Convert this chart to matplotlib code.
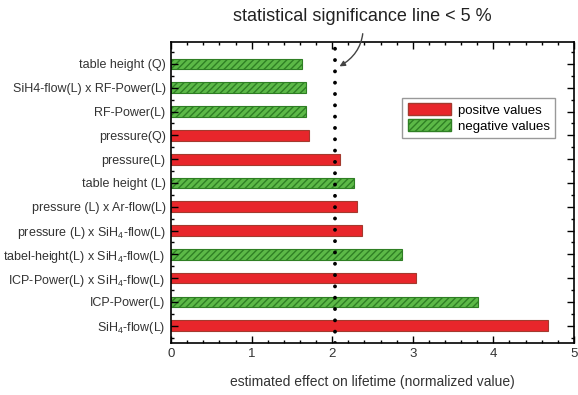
import matplotlib
matplotlib.use("Agg")
import matplotlib.pyplot as plt
from matplotlib.patches import Patch
from matplotlib.ticker import MultipleLocator

plt.rcParams['font.family'] = ['Liberation Sans', 'DejaVu Sans']
plt.rcParams['mathtext.fontset'] = 'custom'
plt.rcParams['mathtext.rm'] = 'Liberation Sans'
plt.rcParams['hatch.linewidth'] = 1.0

# factors listed top to bottom as in the chart
factors = [
    "table height (Q)",
    "SiH4-flow(L) x RF-Power(L)",
    "RF-Power(L)",
    "pressure(Q)",
    "pressure(L)",
    "table height (L)",
    "pressure (L) x Ar-flow(L)",
    r"pressure (L) x SiH$_\mathregular{4}$-flow(L)",
    r"tabel-height(L) x SiH$_\mathregular{4}$-flow(L)",
    r"ICP-Power(L) x SiH$_\mathregular{4}$-flow(L)",
    "ICP-Power(L)",
    r"SiH$_\mathregular{4}$-flow(L)",
]
effects = [1.63, 1.67, 1.67, 1.71, 2.10, 2.27, 2.31, 2.37, 2.86, 3.04, 3.81, 4.68]
sign = ["neg", "neg", "neg", "pos", "pos", "neg", "pos", "pos", "neg", "pos", "neg", "pos"]
signif_line = 2.04

red = "#e8262b"
green = "#5cb947"
txt = "#333333"

fig = plt.figure(figsize=(5.78, 3.95), dpi=100)
ax = fig.add_axes([0.296, 0.132, 0.697, 0.762])

n = len(factors)
ypos = [n - 1 - i for i in range(n)]
for y, v, s in zip(ypos, effects, sign):
    if s == "pos":
        ax.barh(y, v, height=0.45, color=red, edgecolor="#a33a2e", linewidth=0.8)
    else:
        ax.barh(y, v, height=0.45, color=green, edgecolor="#2f7f24", linewidth=0.8,
                hatch="/////")

# significance threshold, round dots
ax.axvline(signif_line, color="black", linestyle=(0, (0.01, 2.9)), linewidth=2.8,
           dash_capstyle="round")

ax.set_xlim(0, 5)
ax.set_ylim(-0.72, n - 1 + 0.93)
ax.set_yticks(ypos)
ax.set_yticklabels(factors, color=txt)
ax.xaxis.set_major_locator(MultipleLocator(1))
ax.xaxis.set_minor_locator(MultipleLocator(0.2))
ax.yaxis.set_minor_locator(MultipleLocator(0.5))
ax.tick_params(which="both", direction="in", top=True, right=True, width=1)
ax.tick_params(which="major", length=5, labelsize=9.5, labelcolor=txt)
ax.tick_params(axis="y", which="major", labelsize=9.0, pad=4)
ax.tick_params(which="minor", length=2.5)
for sp in ax.spines.values():
    sp.set_linewidth(1.2)

ax.set_xlabel("estimated effect on lifetime (normalized value)", fontsize=10,
              color=txt, labelpad=11)

legend_handles = [
    Patch(facecolor=red, edgecolor="#a33a2e", label="positve values"),
    Patch(facecolor=green, edgecolor="#2f7f24", hatch="/////", label="negative values"),
]
ax.legend(handles=legend_handles, loc="upper right", bbox_to_anchor=(0.953, 0.814),
          borderaxespad=0, fontsize=9.5, fancybox=False, edgecolor="#999999",
          framealpha=1, handlelength=3.3, handleheight=1.0, borderpad=0.4,
          labelspacing=0.2, handletextpad=0.5)

ax.annotate("statistical significance line < 5 %", xy=(signif_line + 0.05, 10.9),
            xytext=(2.37, 12.98), textcoords="data", ha="center", va="center",
            fontsize=13, color="#222222", annotation_clip=False,
            arrowprops=dict(arrowstyle="-|>", color="#444444", linewidth=1,
                            connectionstyle="arc3,rad=-0.35", shrinkA=4, shrinkB=0,
                            mutation_scale=8))

fig.savefig("out.png", dpi=100)
